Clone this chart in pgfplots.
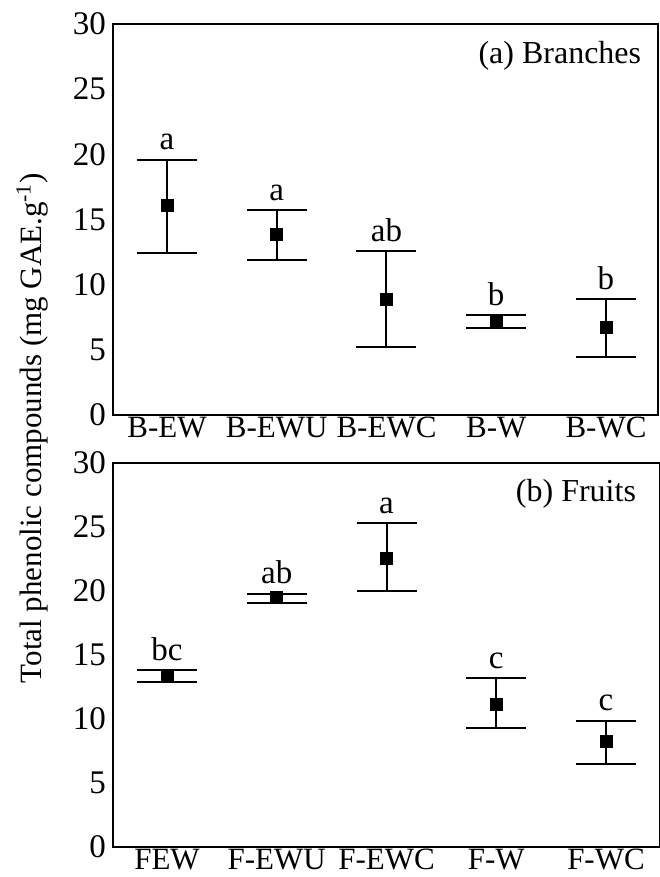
\documentclass[border=0pt]{standalone}
\usepackage{fontspec}
\setmainfont{Liberation Serif}
\usepackage{pgfplots}
\usepackage{pgfplotstable}
\pgfplotsset{compat=1.18}

\pgfplotstableread{
x y ep em lab
1 16.10 3.50 3.65 a
2 13.87 1.83 1.97 a
3 8.90 3.70 3.70 ab
4 7.16 0.51 0.46 b
5 6.70 2.20 2.23 b
}\branches

\pgfplotstableread{
x y ep em lab
1 13.36 0.47 0.50 bc
2 19.48 0.32 0.38 ab
3 22.55 2.75 2.55 a
4 11.17 2.03 1.90 c
5 8.23 1.64 1.75 c
}\fruits

\pgfplotsset{
 panel/.style={
  scale only axis, width=272.5pt, ymin=0, ymax=30, ytick={0,5,...,30},
  xmin=0.508, xtick={1,...,5}, major tick length=0pt,
  axis line style={line width=1pt},
  tick label style={font=\fontsize{16.5}{19}\selectfont},
  xticklabel style={font=\fontsize{15.5}{18}\selectfont, inner sep=1pt},
  /pgf/number format/assume math mode=true,
  clip=false,
 },
 errplot/.style={only marks, mark=square*, mark size=3pt, color=black,
   error bars/.cd, y dir=both, y explicit,
   error bar style={line width=1pt},
   error mark options={rotate=90, line width=1pt, mark size=15pt}},
 labplot/.style={draw=none, nodes near coords, point meta=explicit symbolic,
   every node near coord/.append style={font=\fontsize{16.5}{19}\selectfont, anchor=south, inner sep=4.5pt, text=black}},
}

\begin{document}
\begin{tikzpicture}
\useasboundingbox (0,0) rectangle (329.5pt,438.5pt);
\begin{axis}[panel, at={(56.5pt,231pt)}, anchor=south west, height=195.5pt, xmax=5.474,
  xticklabels={B-EW,B-EWU,B-EWC,B-W,B-WC}]
\addplot[errplot] table[x=x, y=y, y error plus=ep, y error minus=em] {\branches};
\addplot[labplot] table[x=x, y expr=\thisrow{y}+\thisrow{ep}, meta=lab] {\branches};
\node[anchor=east, font=\fontsize{16}{19}\selectfont] at (rel axis cs:0.982,0.918) {(a) Branches};
\end{axis}
\begin{axis}[panel, at={(56.5pt,15pt)}, anchor=south west, height=192pt, width=273.5pt, xmax=5.492,
  xticklabels={FEW,F-EWU,F-EWC,F-W,F-WC}]
\addplot[errplot] table[x=x, y=y, y error plus=ep, y error minus=em] {\fruits};
\addplot[labplot] table[x=x, y expr=\thisrow{y}+\thisrow{ep}, meta=lab] {\fruits};
\node[anchor=east, font=\fontsize{16}{19}\selectfont] at (rel axis cs:0.969,0.919) {(b) Fruits};
\end{axis}
\node[rotate=90, font=\fontsize{15.5}{18}\selectfont] at (16pt,224.5pt) {Total phenolic compounds (mg GAE.g\textsuperscript{-1})};
\end{tikzpicture}
\end{document}
